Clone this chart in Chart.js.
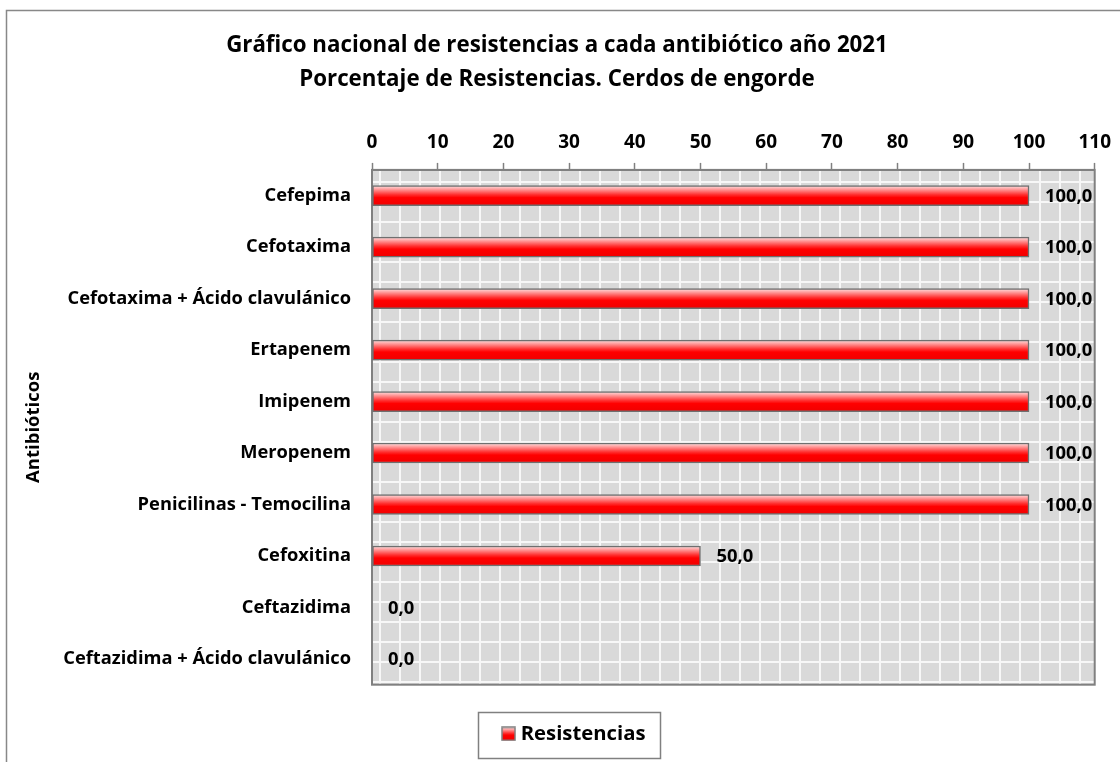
<!DOCTYPE html>
<html>
<head>
<meta charset="utf-8">
<script src="https://cdn.jsdelivr.net/npm/chart.js@4"></script>
<style>
  html, body { margin: 0; padding: 0; background: #fff; }
  #wrap { width: 1120px; height: 762px; }
</style>
</head>
<body>
<div id="wrap"><canvas id="chartResist"></canvas></div>
<script>
const antibioticos = [
  'Cefepima',
  'Cefotaxima',
  'Cefotaxima + Ácido clavulánico',
  'Ertapenem',
  'Imipenem',
  'Meropenem',
  'Penicilinas - Temocilina',
  'Cefoxitina',
  'Ceftazidima',
  'Ceftazidima + Ácido clavulánico'
];
const resistencias = [100, 100, 100, 100, 100, 100, 100, 50, 0, 0];
const xTicks = [0, 10, 20, 30, 40, 50, 60, 70, 80, 90, 100, 110];

const FONT = 'Open Sans';

function redGradient(ctx, y0, y1) {
  const g = ctx.createLinearGradient(0, y0, 0, y1);
  g.addColorStop(0, '#ffe4e4');
  g.addColorStop(0.45, '#ff3030');
  g.addColorStop(0.6, '#ff0000');
  g.addColorStop(1, '#f00000');
  return g;
}

// small swatch for the legend
const swatch = document.createElement('canvas');
swatch.width = 15; swatch.height = 15;
(function () {
  const s = swatch.getContext('2d');
  s.fillStyle = redGradient(s, 1, 14);
  s.fillRect(1, 1, 13, 13);
  s.strokeStyle = '#7f7f7f';
  s.lineWidth = 1.5;
  s.strokeRect(1, 1, 13, 13);
})();

// gray pattern behind the bars + frame
const plotBackground = {
  id: 'plotBackground',
  afterLayout(chart) {
    // the legend sits a bit right of the canvas centre
    chart.legend.left += 19;
    chart.legend.right += 19;
  },
  beforeDraw(chart) {
    const a = chart.chartArea, ctx = chart.ctx;
    ctx.save();
    ctx.fillStyle = '#d9d9d9';
    ctx.fillRect(a.left, a.top, a.right - a.left, a.bottom - a.top);
    ctx.strokeStyle = '#f7f7f7';
    ctx.lineWidth = 2;
    ctx.beginPath();
    for (let x = a.left + 8; x < a.right; x += 20) {
      ctx.moveTo(x, a.top); ctx.lineTo(x, a.bottom);
    }
    for (let y = a.top + 12; y < a.bottom; y += 20) {
      ctx.moveTo(a.left, y); ctx.lineTo(a.right, y);
    }
    ctx.stroke();
    ctx.restore();
  },
  beforeDatasetsDraw(chart) {
    const a = chart.chartArea, ctx = chart.ctx;
    ctx.save();
    ctx.strokeStyle = '#808080';
    ctx.lineWidth = 2;
    ctx.strokeRect(a.left, a.top, a.right - a.left, a.bottom - a.top);
    ctx.restore();
  },
  afterDraw(chart) {
    const ctx = chart.ctx;
    ctx.save();
    // outer chart frame
    ctx.strokeStyle = '#888888';
    ctx.lineWidth = 1.5;
    ctx.strokeRect(6.5, 10.5, 2000, 2000);
    // legend frame
    ctx.strokeStyle = '#808080';
    ctx.lineWidth = 1.5;
    ctx.strokeRect(478.5, 712.5, 182, 46);
    ctx.restore();
  }
};

// value labels at the end of each bar
const valueLabels = {
  id: 'valueLabels',
  afterDatasetsDraw(chart) {
    const ctx = chart.ctx;
    const meta = chart.getDatasetMeta(0);
    ctx.save();
    ctx.font = 'bold 18.4px ' + FONT;
    ctx.fillStyle = '#000';
    ctx.textAlign = 'left';
    ctx.textBaseline = 'middle';
    meta.data.forEach((bar, i) => {
      const txt = resistencias[i].toFixed(1).replace('.', ',');
      ctx.fillText(txt, bar.x + 16, bar.y + 1);
    });
    ctx.restore();
  }
};

const ctx_1 = document.getElementById('chartResist');

new Chart(ctx_1, {
  type: 'bar',
  data: {
    labels: antibioticos,
    datasets: [{
      label: 'Resistencias',
      data: resistencias,
      backgroundColor: function (c) {
        const chart = c.chart;
        if (!chart.chartArea || c.type !== 'data') return '#ff0000';
        const y = chart.scales.y.getPixelForValue(c.dataIndex);
        return redGradient(chart.ctx, y - 10, y + 10);
      },
      borderColor: '#6f6f6f',
      borderWidth: 1.5,
      borderSkipped: false,
      barThickness: 20
    }]
  },
  options: {
    indexAxis: 'y',
    responsive: true,
    maintainAspectRatio: false,
    animation: false,
    layout: {
      padding: { left: 18, right: 24, top: 0, bottom: 8 }
    },
    scales: {
      x: {
        position: 'top',
        min: 0,
        max: 110,
        afterBuildTicks: (scale) => { scale.ticks = xTicks.map(v => ({ value: v })); },
        afterFit: (scale) => { scale.height = 74; },
        grid: {
          drawOnChartArea: false,
          drawTicks: true,
          tickLength: 7,
          tickColor: '#808080',
          tickWidth: 1.5
        },
        border: { display: true, color: '#808080', width: 2 },
        ticks: {
          padding: 9,
          color: '#000',
          font: { family: FONT, size: 19, weight: 'bold' }
        }
      },
      y: {
        afterFit: (scale) => { scale.width = 372 - 18; },
        grid: { display: false, drawTicks: false },
        border: { display: true, color: '#808080', width: 2 },
        ticks: {
          padding: 21,
          color: '#000',
          font: { family: FONT, size: 18.3, weight: 'bold' }
        },
        title: {
          display: true,
          text: 'Antibióticos',
          color: '#000',
          padding: { top: 5, bottom: 0 },
          font: { family: FONT, size: 18.5, weight: 'bold' }
        }
      }
    },
    plugins: {
      title: {
        display: true,
        text: ['Gráfico nacional de resistencias a cada antibiótico año 2021',
               'Porcentaje de Resistencias. Cerdos de engorde'],
        color: '#000',
        padding: { top: 29, bottom: 0 },
        font: { family: FONT, size: 22.3, weight: 'bold', lineHeight: 1.5 }
      },
      legend: {
        display: true,
        position: 'bottom',
        title: {
          display: true,
          text: ' ',
          padding: { top: 17, bottom: 0 },
          font: { size: 10 }
        },
        labels: {
          usePointStyle: true,
          pointStyle: swatch,
          boxWidth: 4,
          padding: 10,
          color: '#000',
          font: { family: FONT, size: 20.3, weight: 'bold' }
        }
      },
      tooltip: { enabled: false }
    }
  },
  plugins: [plotBackground, valueLabels]
});
</script>
</body>
</html>
